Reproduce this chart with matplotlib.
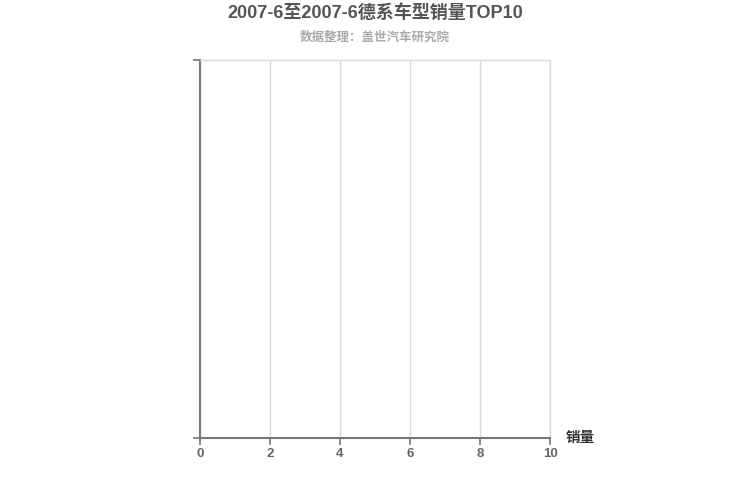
import matplotlib.pyplot as plt

plt.rcParams['font.family'] = ['Liberation Sans', 'Noto Sans CJK SC', 'DejaVu Sans']

# no data for this period
models = []
sales = []
x_ticks = [0, 2, 4, 6, 8, 10]

fig = plt.figure(figsize=(7.5, 5), dpi=100)
ax = fig.add_axes([200 / 750, 62 / 500, 350 / 750, 378 / 500])

ax.barh(models, sales, color='#5b9bd5')

ax.set_xlim(0, 10)
ax.set_ylim(0, 1)
ax.set_xticks(x_ticks)
ax.set_yticks([0, 1])
ax.set_yticklabels([])
ax.grid(axis='x', color='#d9d9d9', linewidth=1)
ax.set_axisbelow(True)

for side in ['top', 'right']:
    ax.spines[side].set_color('#d9d9d9')
    ax.spines[side].set_linewidth(1)
for side in ['left', 'bottom']:
    ax.spines[side].set_color('#777777')
    ax.spines[side].set_linewidth(1.5)

ax.tick_params(axis='x', colors='#777777', length=5, width=1.2, labelsize=9.5, pad=2)
ax.tick_params(axis='y', colors='#777777', length=5, width=1.2)
for lbl in ax.get_xticklabels():
    lbl.set_fontweight('bold')
    lbl.set_color('#666666')

fig.text(0.5, 1 - 13 / 500, '2007-6至2007-6德系车型销量TOP10', ha='center', va='center',
         fontsize=13, fontweight='bold', color='#555555')
fig.text(0.5, 1 - 38 / 500, '数据整理：盖世汽车研究院', ha='center', va='center',
         fontsize=9, fontweight='bold', color='#aaaaaa')
fig.text(580 / 750, 1 - 438 / 500, '销量', ha='center', va='center',
         fontsize=10.5, fontweight='bold', color='#333333')

fig.savefig('out.png', dpi=100)
